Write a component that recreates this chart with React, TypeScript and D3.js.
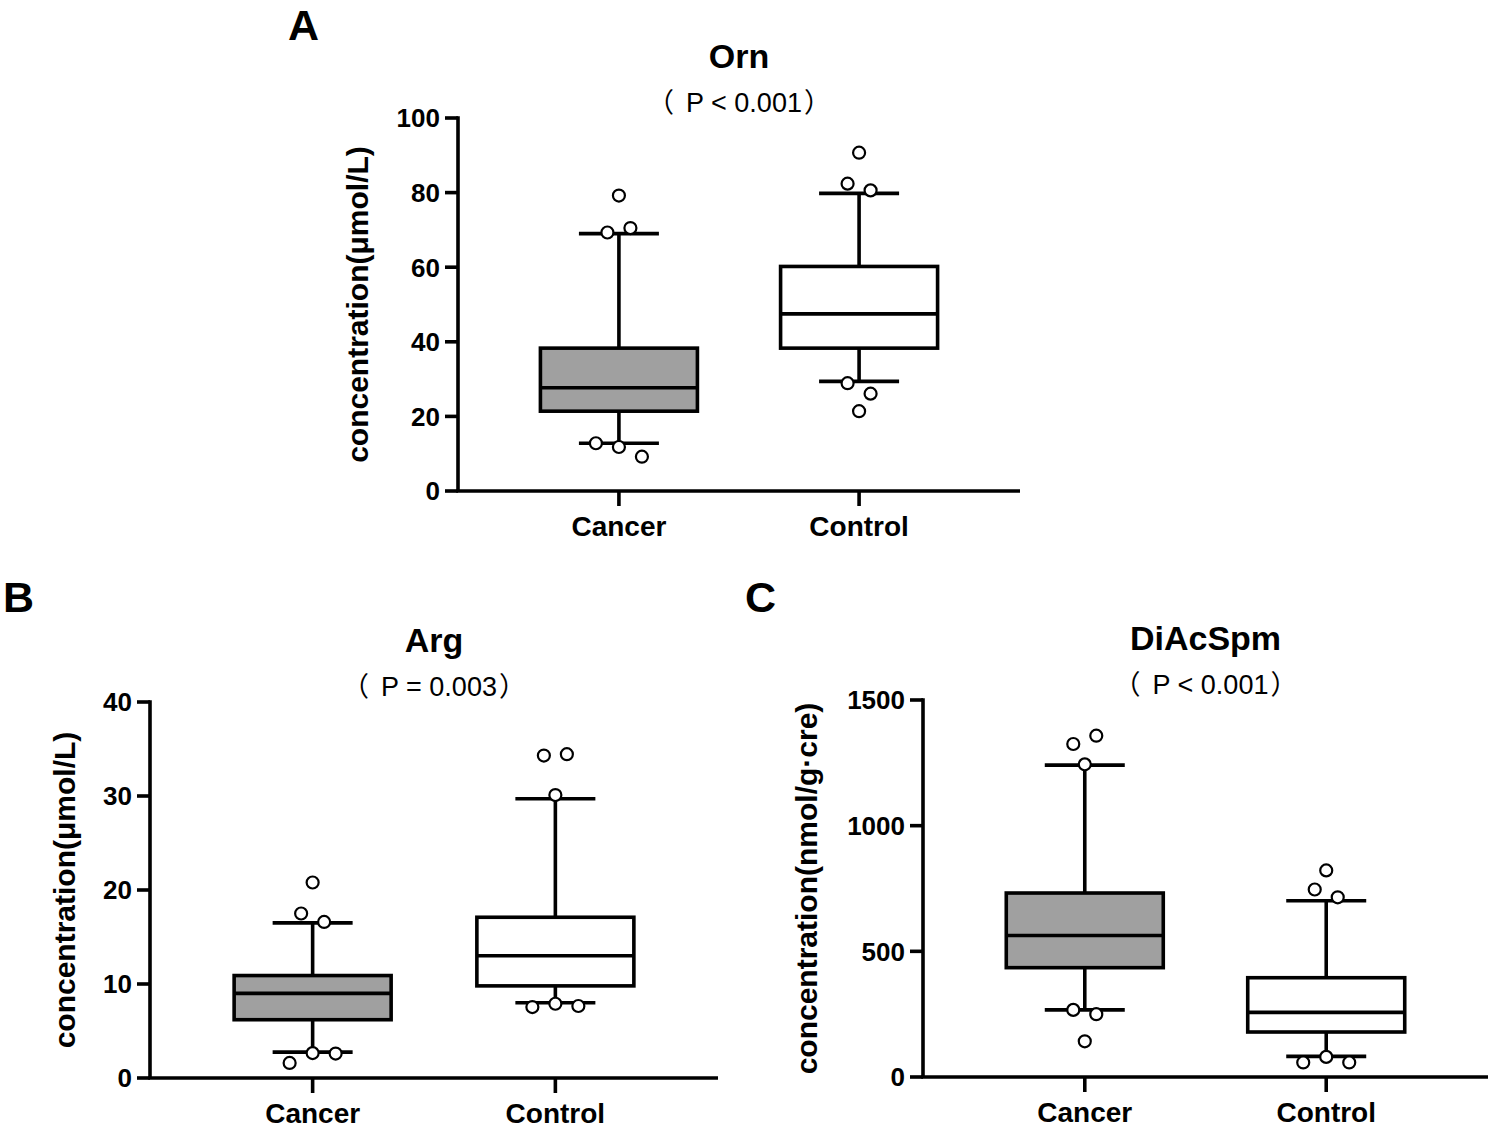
import React from 'react';
import * as d3 from 'd3';

const groups = ['Cancer', 'Control'];

// box stats per group: [lower whisker, Q1, median, Q3, upper whisker]
const ornBoxes = [[12.8, 21.4, 27.7, 38.3, 69.0], [29.4, 38.3, 47.5, 60.2, 79.8]];
const ornOutliers = [[79.2, 69.3, 70.5, 12.8, 11.8, 9.2], [90.7, 82.4, 80.6, 28.9, 26.1, 21.4]];
const ornTicks = [0, 20, 40, 60, 80, 100];

const argBoxes = [[2.75, 6.2, 9.0, 10.9, 16.5], [8.0, 9.8, 13.0, 17.1, 29.7]];
const argOutliers = [[20.8, 17.5, 16.6, 1.6, 2.65, 2.6], [34.3, 34.45, 30.1, 7.55, 7.9, 7.66]];
const argTicks = [0, 10, 20, 30, 40];

const diacBoxes = [[267, 435, 563, 732, 1241], [82, 179, 257, 395, 701]];
const diacOutliers = [[1325, 1358, 1244, 267, 250, 142], [822, 746, 715, 58, 80, 58]];
const diacTicks = [0, 500, 1000, 1500];

const boxFills = ['#a0a0a0', '#ffffff'];
const font = '"Liberation Sans", Arial, sans-serif';
const pFont = '"Liberation Sans", "Noto Sans CJK SC", sans-serif';

// Prism-like horizontal spread of outliers that sit close together
const spread = (vals: number[], y: (v: number) => number, step: number) => {
    const offs: number[] = [];
    let i = 0;
    while (i < vals.length) {
        let j = i + 1;
        while (j < vals.length && Math.abs(y(vals[j]) - y(vals[j - 1])) < 12) j++;
        const n = j - i;
        for (let k = 0; k < n; k++) offs.push((k - (n - 1) / 2) * step);
        i = j;
    }
    return offs;
};

interface PanelProps {
    letter: string;
    letterX: number;
    letterY: number;
    title: string;
    pText: string;
    yLabel: string;
    boxes: number[][];
    outliers: number[][];
    ticks: number[];
    left: number;
    right: number;
    top: number;
    bottom: number;
}

const BoxPanel = ({ letter, letterX, letterY, title, pText, yLabel, boxes, outliers, ticks, left, right, top, bottom }: PanelProps) => {
    const y = d3.scaleLinear().domain([0, ticks[ticks.length - 1]]).range([bottom, top]);
    const x = d3.scalePoint<string>().domain(groups).range([left, right]).padding(0.67);
    const boxW = 157;
    const capW = 80;
    const sw = 3.6;
    const midX = (left + right) / 2;
    const maxDigits = d3.max(ticks, (t) => String(t).length)!;
    const labelX = left - (16 + maxDigits * 15.5 + 28);

    return (
        <g>
            <text x={letterX} y={letterY} fontFamily={font} fontWeight="bold" fontSize={43}>{letter}</text>
            <text x={midX} y={top - 50} textAnchor="middle" fontFamily={font} fontWeight="bold" fontSize={34}>{title}</text>
            <text x={midX} y={top - 6} textAnchor="middle" fontFamily={pFont} fontSize={27}>
                <tspan>{pText.slice(0, 1)}</tspan>
                <tspan dx={12}>{pText.slice(1, -1)}</tspan>
                <tspan dx={2}>{pText.slice(-1)}</tspan>
            </text>
            <text
                transform={`translate(${labelX},${(top + bottom) / 2}) rotate(-90)`}
                textAnchor="middle"
                fontFamily={font}
                fontWeight="bold"
                fontSize={30}
            >
                {yLabel}
            </text>

            {/* y axis */}
            <line x1={left} x2={left} y1={top - 1.8} y2={bottom} stroke="#000" strokeWidth={sw} />
            {ticks.map((t) => (
                <g key={t}>
                    <line x1={left - 13} x2={left} y1={y(t)} y2={y(t)} stroke="#000" strokeWidth={sw} />
                    <text x={left - 18} y={y(t)} dy="0.36em" textAnchor="end" fontFamily={font} fontWeight="bold" fontSize={26}>{t}</text>
                </g>
            ))}

            {/* x axis */}
            <line x1={left - 1.8} x2={right} y1={bottom} y2={bottom} stroke="#000" strokeWidth={sw} />
            {groups.map((g) => (
                <g key={g}>
                    <line x1={x(g)!} x2={x(g)!} y1={bottom} y2={bottom + 15} stroke="#000" strokeWidth={sw} />
                    <text x={x(g)!} y={bottom + 45} textAnchor="middle" fontFamily={font} fontWeight="bold" fontSize={28}>{g}</text>
                </g>
            ))}

            {/* boxes */}
            {groups.map((g, gi) => {
                const [lo, q1, med, q3, hi] = boxes[gi];
                const cx = x(g)!;
                return (
                    <g key={g} stroke="#000" strokeWidth={sw}>
                        <line x1={cx} x2={cx} y1={y(q3)} y2={y(hi)} />
                        <line x1={cx} x2={cx} y1={y(q1)} y2={y(lo)} />
                        <line x1={cx - capW / 2} x2={cx + capW / 2} y1={y(hi)} y2={y(hi)} />
                        <line x1={cx - capW / 2} x2={cx + capW / 2} y1={y(lo)} y2={y(lo)} />
                        <rect x={cx - boxW / 2} y={y(q3)} width={boxW} height={y(q1) - y(q3)} fill={boxFills[gi]} />
                        <line x1={cx - boxW / 2} x2={cx + boxW / 2} y1={y(med)} y2={y(med)} />
                    </g>
                );
            })}

            {/* outliers */}
            {groups.map((g, gi) => {
                const offs = spread(outliers[gi], y, 23);
                return outliers[gi].map((v, i) => (
                    <circle key={`${g}-${i}`} cx={x(g)! + offs[i]} cy={y(v)} r={6} fill="#fff" stroke="#000" strokeWidth={2.2} />
                ));
            })}
        </g>
    );
};

const App = () => {
    return (
        <svg width={1494} height={1130} style={{ position: 'absolute', left: 0, top: 0, background: '#fff' }}>
            <rect width={1494} height={1130} fill="#fff" />
            <BoxPanel
                letter="A" letterX={288} letterY={40}
                title="Orn" pText="（P < 0.001）" yLabel="concentration(μmol/L)"
                boxes={ornBoxes} outliers={ornOutliers} ticks={ornTicks}
                left={458} right={1020} top={118} bottom={491}
            />
            <BoxPanel
                letter="B" letterX={3} letterY={612}
                title="Arg" pText="（P = 0.003）" yLabel="concentration(μmol/L)"
                boxes={argBoxes} outliers={argOutliers} ticks={argTicks}
                left={150} right={718} top={702} bottom={1078}
            />
            <BoxPanel
                letter="C" letterX={745} letterY={612}
                title="DiAcSpm" pText="（P < 0.001）" yLabel="concentration(nmol/g·cre)"
                boxes={diacBoxes} outliers={diacOutliers} ticks={diacTicks}
                left={923} right={1488} top={700} bottom={1077}
            />
        </svg>
    );
};

export default App;
